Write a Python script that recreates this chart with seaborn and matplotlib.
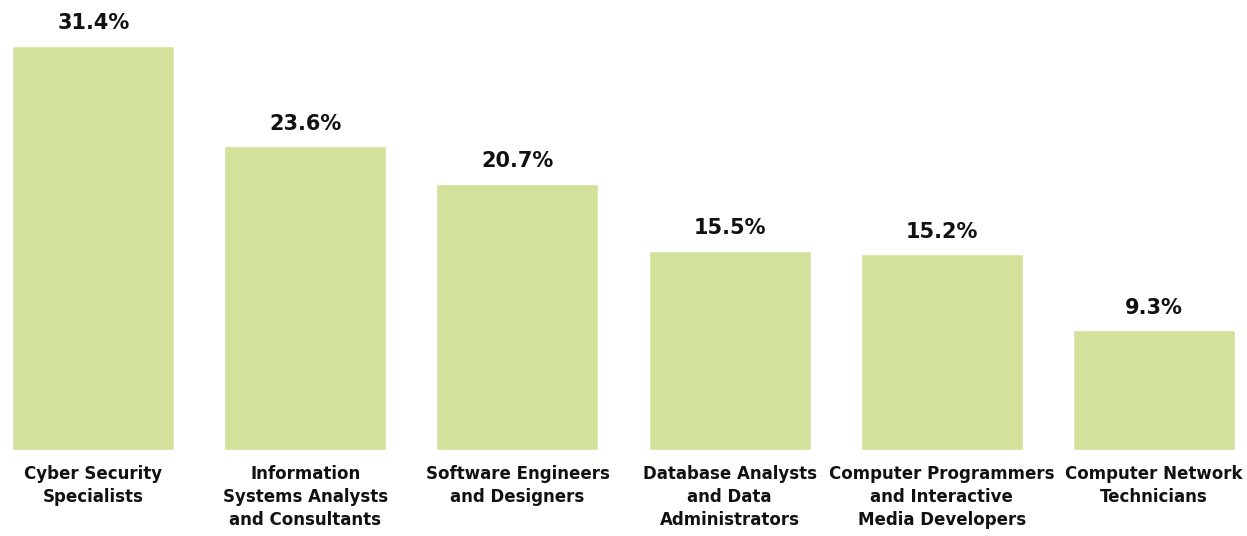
import matplotlib
matplotlib.use("Agg")
import matplotlib.pyplot as plt
import seaborn as sns
import pandas as pd

categories = [
    "Cyber Security\nSpecialists",
    "Information\nSystems Analysts\nand Consultants",
    "Software Engineers\nand Designers",
    "Database Analysts\nand Data\nAdministrators",
    "Computer Programmers\nand Interactive\nMedia Developers",
    "Computer Network\nTechnicians",
]
values = [31.4, 23.6, 20.7, 15.5, 15.2, 9.3]
value_labels = ["31.4%", "23.6%", "20.7%", "15.5%", "15.2%", "9.3%"]

sns.set_theme(style="white")
plt.rcParams['font.family'] = ['DejaVu Sans']

df = pd.DataFrame({"cat": categories, "val": values})

fig = plt.figure(figsize=(12.47, 5.36), dpi=100)
ax = fig.add_axes([0, 86/536, 1, 450/536])
sns.barplot(data=df, x="cat", y="val", color="#d3e29b", saturation=1,
            width=162/212, ax=ax)
ax.set_xlim(-0.44, 5.44)
ax.set_ylim(0, 450/12.87)
for p, lab in zip(ax.patches, value_labels):
    ax.annotate(lab, (p.get_x() + p.get_width()/2, p.get_height()),
                xytext=(0, 9), textcoords="offset points",
                ha="center", va="bottom", fontsize=15, fontweight="bold",
                color="#111111")
ax.set_xlabel("")
ax.set_ylabel("")
ax.set_yticks([])
ax.set_xticks(range(len(categories)), labels=categories, fontsize=12,
              fontweight="bold", color="#111111", linespacing=1.33)
ax.tick_params(axis="x", length=0, pad=11)
sns.despine(ax=ax, left=True, bottom=True)
fig.savefig("out.png", dpi=100)
